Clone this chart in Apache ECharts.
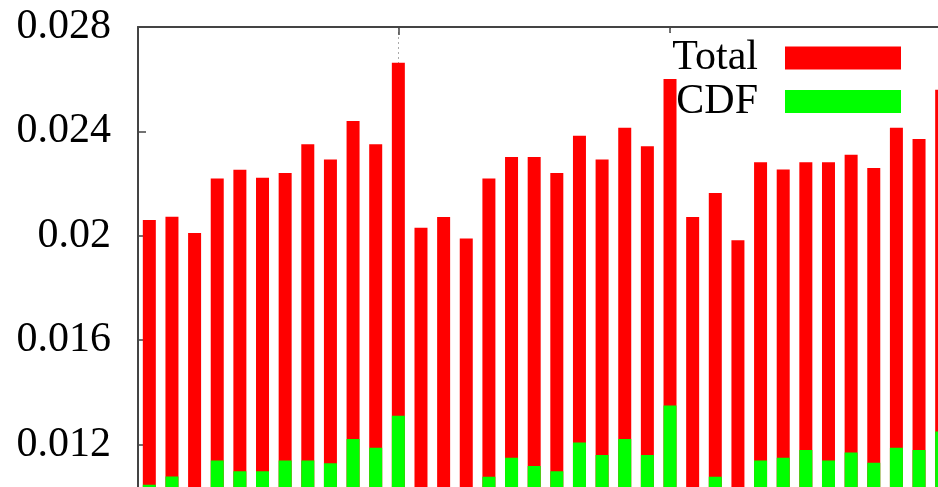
<!DOCTYPE html>
<html>
<head>
<meta charset="utf-8">
<script src="https://cdn.jsdelivr.net/npm/echarts@6/dist/echarts.min.js"></script>
<style>
  html, body { margin: 0; padding: 0; background: #fff; }
  #chart { width: 938px; height: 487px; }
</style>
</head>
<body>
<div id="chart"></div>
<script>
// Bin labels along the x axis (labels themselves are not printed)
const categories = ['1', '2', '3', '4', '5', '6', '7', '8', '9', '10', '11', '12',
                    '13', '14', '15', '16', '17', '18', '19', '20', '21', '22', '23', '24',
                    '25', '26', '27', '28', '29', '30', '31', '32', '33', '34', '35', '36'];

// Total per bin
const totalValues = [0.02061, 0.02073, 0.02011, 0.02220, 0.02253, 0.02222, 0.02241, 0.02351,
                     0.02292, 0.02440, 0.02351, 0.02663, 0.02031, 0.02072, 0.01990, 0.02220,
                     0.02302, 0.02302, 0.02241, 0.02383, 0.02292, 0.02414, 0.02343, 0.02601,
                     0.02072, 0.02164, 0.01983, 0.02282, 0.02254, 0.02282, 0.02282, 0.02311,
                     0.02260, 0.02414, 0.02371, 0.02560];

// CDF per bin
const cdfValues = [0.01046, 0.01078, 0.01010, 0.01139, 0.01098, 0.01098, 0.01139, 0.01139,
                   0.01129, 0.01221, 0.01188, 0.01311, 0.01020, 0.01030, 0.01000, 0.01077,
                   0.01150, 0.01118, 0.01098, 0.01208, 0.01160, 0.01221, 0.01160, 0.01350,
                   0.01030, 0.01077, 0.00990, 0.01139, 0.01150, 0.01179, 0.01139, 0.01170,
                   0.01130, 0.01188, 0.01179, 0.01250];

// Value axis range and step
const yMin = 0.008;
const yMax = 0.028;
const yStep = 0.004;

// Every 12th bin gets a tick and a dotted guide line
const tickEvery = 12;

const chart = echarts.init(document.getElementById('chart'), null, { renderer: 'canvas' });

const serif = '"Liberation Serif", "DejaVu Serif", serif';
const frameColor = '#444';
const markTick = (index) => index % tickEvery === tickEvery - 1;

chart.setOption({
  animation: false,
  backgroundColor: '#ffffff',
  grid: {
    left: 138,
    top: 27,
    width: 815,
    height: 522,
    containLabel: false,
    outerBoundsMode: 'none'
  },
  legend: {
    orient: 'vertical',
    right: 33,
    top: 33,
    z: 1,
    align: 'right',
    padding: [4, 4, 4, 6],
    backgroundColor: '#ffffff',
    itemWidth: 116,
    itemHeight: 23,
    itemGap: 1.5,
    selectedMode: false,
    textStyle: {
      fontFamily: serif,
      fontSize: 42,
      lineHeight: 42,
      color: '#000',
      padding: [0, 22, 0, 0]
    },
    data: [
      { name: 'Total', icon: 'rect' },
      { name: 'CDF', icon: 'rect' }
    ]
  },
  xAxis: {
    type: 'category',
    position: 'top',
    data: categories,
    boundaryGap: true,
    axisLine: { show: true, lineStyle: { color: frameColor, width: 2 } },
    axisTick: {
      show: true,
      inside: true,
      length: 8,
      alignWithLabel: true,
      interval: markTick,
      lineStyle: { color: frameColor, width: 1.5 }
    },
    axisLabel: { show: false },
    splitLine: {
      show: true,
      alignWithLabel: true,
      interval: markTick,
      lineStyle: { color: '#aaa', width: 1, type: [2, 3] }
    }
  },
  yAxis: {
    type: 'value',
    min: yMin,
    max: yMax,
    interval: yStep,
    axisLine: { show: true, lineStyle: { color: frameColor, width: 2 } },
    axisTick: {
      show: true,
      inside: true,
      length: 8,
      lineStyle: { color: frameColor, width: 1.5 }
    },
    splitLine: { show: false },
    axisLabel: {
      margin: 27,
      fontFamily: serif,
      fontSize: 42,
      color: '#000'
    }
  },
  series: [
    {
      name: 'Total',
      type: 'bar',
      data: totalValues,
      barWidth: 13,
      barGap: '-100%',
      itemStyle: { color: '#ff0000' }
    },
    {
      name: 'CDF',
      type: 'bar',
      data: cdfValues,
      barWidth: 13,
      barGap: '-100%',
      itemStyle: { color: '#00ff00' }
    }
  ]
});
</script>
</body>
</html>
